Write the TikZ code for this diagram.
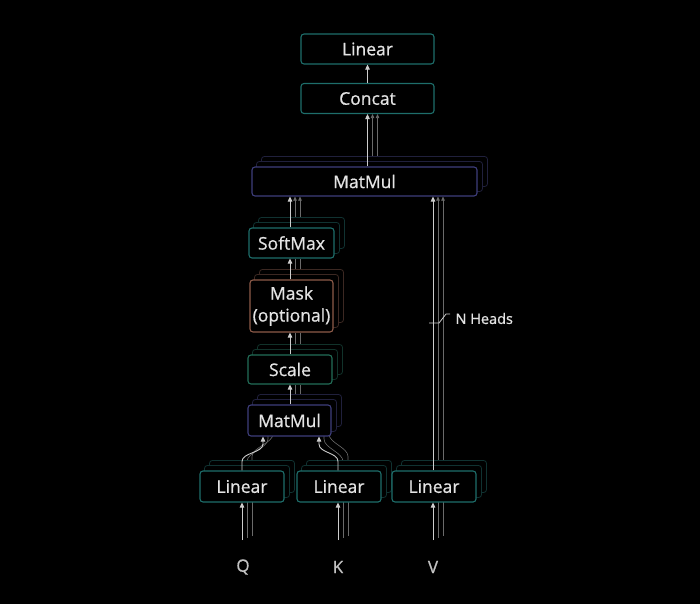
\documentclass[tikz,border=0pt]{standalone}
\usepackage{fontspec}
\setmainfont{Open Sans}
\newfontfamily\boxfont{Open Sans}[FakeBold=0.7]
\usetikzlibrary{arrows.meta}
\pgfdeclarelayer{canvas}\pgfdeclarelayer{back}\pgfdeclarelayer{bg}
\pgfsetlayers{canvas,back,bg,main}
\definecolor{txt}{HTML}{E4E4E4}
\definecolor{arrc}{HTML}{CDCDCD}
\definecolor{ghl}{HTML}{6A6A6A}
\definecolor{tealb}{HTML}{1E6E6B}
\definecolor{tealg}{HTML}{103231}
\definecolor{purb}{HTML}{3E3E7C}
\definecolor{purg}{HTML}{20203C}
\definecolor{brnb}{HTML}{8E5B49}
\definecolor{brng}{HTML}{3C2822}
\definecolor{grnb}{HTML}{236E58}
\definecolor{grng}{HTML}{11322A}
\tikzset{
  box/.style={draw, line width=1.1pt, rounded corners=3pt, fill=black, text=txt,
    font=\boxfont\fontsize{17.5}{20}\selectfont, minimum height=30pt, inner sep=0pt, align=center},
  arr/.style={draw=arrc, line width=0.9pt, -{Triangle[length=5pt,width=4.5pt]}},
  gline/.style={draw=ghl, line width=0.6pt, -{Triangle[length=4pt,width=3.5pt]}},
  gplain/.style={draw=ghl, line width=0.6pt},
  lbl/.style={text=txt!85!black, font=\boxfont\fontsize{17}{18}\selectfont},
}
\newcommand\mkghosts[2]{%
  \begin{pgfonlayer}{bg}
  \draw[#2, line width=0.8pt, fill=black, rounded corners=3pt]
    ([shift={(10pt,10pt)}]#1.south west) rectangle ([shift={(10pt,10pt)}]#1.north east);
  \draw[#2, line width=0.8pt, fill=black, rounded corners=3pt]
    ([shift={(5pt,5pt)}]#1.south west) rectangle ([shift={(5pt,5pt)}]#1.north east);
  \end{pgfonlayer}}
\begin{document}
\begin{tikzpicture}[x=1pt,y=-1pt]
\begin{pgfonlayer}{canvas}
\fill[black] (0,0) rectangle (700,604);
\end{pgfonlayer}
\useasboundingbox (0,0) rectangle (700,604);

% boxes
\node[box, draw=tealb, minimum width=133pt] (lin2) at (367.5,49) {Linear};
\node[box, draw=tealb, minimum width=133pt] (concat) at (367.5,98.5) {Concat};
\node[box, draw=purb, minimum width=225pt, minimum height=29pt] (mm2) at (364.5,181.5) {MatMul};
\node[box, draw=tealb, minimum width=85pt] (soft) at (291.5,243) {SoftMax};
\node[box, draw=brnb, minimum width=83pt, minimum height=52pt, font=\boxfont\fontsize{17.5}{22}\selectfont] (mask) at (291.5,306) {Mask\\(optional)};
\node[box, draw=grnb, minimum width=84pt, minimum height=29pt] (scale) at (290,369.5) {Scale};
\node[box, draw=purb, minimum width=83pt, minimum height=31pt] (mm1) at (289.5,420.5) {MatMul};
\node[box, draw=tealb, minimum width=84pt, minimum height=31pt] (linq) at (242,486.5) {Linear};
\node[box, draw=tealb, minimum width=84pt, minimum height=31pt] (link) at (339,486.5) {Linear};
\node[box, draw=tealb, minimum width=84pt, minimum height=31pt] (linv) at (434,486.5) {Linear};

\mkghosts{mm2}{purg}
\mkghosts{soft}{tealg}
\mkghosts{mask}{brng}
\mkghosts{scale}{grng}
\mkghosts{mm1}{purg}
\mkghosts{linq}{tealg}
\mkghosts{link}{tealg}
\mkghosts{linv}{tealg}

% labels
\node[lbl] (q) at (243,567) {Q};
\node[lbl] (k) at (338,567) {K};
\node[lbl] (v) at (433,567) {V};
\coordinate (qin) at (242,540);
\coordinate (kin) at (338,540);
\coordinate (vin) at (433,540);

% main connectors
\draw[arr] (concat.north) -- (lin2.south);
\draw[arr] (concat.south |- mm2.north) -- (concat.south);
\draw[arr] (soft.north -| 290,0) -- (290,0 |- mm2.south);
\draw[arr] (mask.north -| 290,0) -- (290,0 |- soft.south);
\draw[arr] (scale.north -| 290,0) -- (290,0 |- mask.south);
\draw[arr] (mm1.north -| 290,0) -- (290,0 |- scale.south);
\draw[arr] (linv.north -| vin) -- (vin |- mm2.south);
\draw[arr] (linq.north -| qin) -- ++(0,-9) .. controls ++(0,-9) and ++(0,9) .. (263,444) -- (263,0 |- mm1.south);
\draw[arr] (link.north -| kin) -- ++(0,-9) .. controls ++(0,-9) and ++(0,9) .. (319,444) -- (319,0 |- mm1.south);
\draw[arr] (qin) -- (qin |- linq.south);
\draw[arr] (kin) -- (kin |- link.south);
\draw[arr] (vin) -- (vin |- linv.south);

% ghost connectors
\begin{pgfonlayer}{back}
\foreach \d in {5,10}{
  \draw[gline] ([xshift=\d pt]concat.south |- mm2.north) ++(0,-\d) -- ([xshift=\d pt]concat.south);
  \draw[gline] ([xshift=\d pt]soft.north -| 290,0) ++(0,-\d) -- ([xshift=\d pt]290,0 |- mm2.south);
  \draw[gline] ([xshift=\d pt]mask.north -| 290,0) ++(0,-\d) -- ([xshift=\d pt]290,0 |- soft.south) ++(0,-\d);
  \draw[gline] ([xshift=\d pt]scale.north -| 290,0) ++(0,-\d) -- ([xshift=\d pt]290,0 |- mask.south) ++(0,-\d);
  \draw[gline] ([xshift=\d pt]mm1.north -| 290,0) ++(0,-\d) -- ([xshift=\d pt]290,0 |- scale.south) ++(0,-\d);
  \draw[gline] ([xshift=\d pt]linv.north -| vin) ++(0,-\d) -- ([xshift=\d pt]vin |- mm2.south);
  \draw[gline] ([xshift=\d pt]linq.north -| qin) ++(0,-\d) -- ++(0,-4) .. controls ++(0,-9) and ++(0,9) .. ([shift={(\d pt,\d pt)}]263,444) -- ([shift={(\d pt,\d pt)}]263,0 |- mm1.south);
  \draw[gline] ([xshift=\d pt]link.north -| kin) ++(0,-\d) -- ++(0,-4) .. controls ++(0,-9) and ++(0,9) .. ([shift={(\d pt,\d pt)}]319,444) -- ([shift={(\d pt,\d pt)}]319,0 |- mm1.south);
  \draw[gplain] ([xshift=\d pt]qin) ++(0,-\d*0.4) -- ([shift={(\d pt,\d pt)}]qin |- linq.south);
  \draw[gplain] ([xshift=\d pt]kin) ++(0,-\d*0.4) -- ([shift={(\d pt,\d pt)}]kin |- link.south);
  \draw[gplain] ([xshift=\d pt]vin) ++(0,-\d*0.4) -- ([shift={(\d pt,\d pt)}]vin |- linv.south);
}
\end{pgfonlayer}

% N heads
\coordinate (nh) at (429,323);
\draw[draw=arrc, line width=0.8pt] (nh) -- ++(10,0) -- ++(7,-9) -- ++(4,0);
\node[lbl, text=txt, anchor=west, font=\boxfont\fontsize{14.5}{16}\selectfont] (nheads) at (452,318.5) {N Heads};
\end{tikzpicture}
\end{document}
